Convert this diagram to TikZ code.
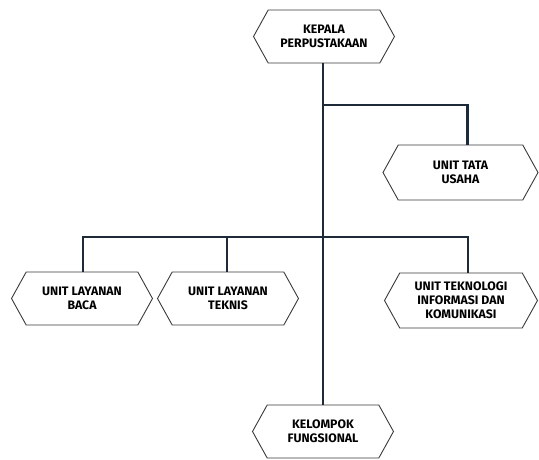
\documentclass[tikz,border=0pt]{standalone}
\usepackage{fontspec}
\setmainfont{Fira Sans}
\usetikzlibrary{shapes.symbols,positioning}
\definecolor{garis}{HTML}{1E2A38}
\definecolor{tepi}{HTML}{3A3A3A}

\begin{document}
\begin{tikzpicture}[x=1pt,y=-1pt]
  \tikzstyle{unit}=[draw=tepi,line width=0.9pt,fill=white,shape=signal,signal to=west and east,signal pointer angle=122,minimum width=141pt,minimum height=53pt,inner sep=1pt,align=center,font=\bfseries\fontsize{12.3}{14}\selectfont]
  \tikzstyle{hubung}=[draw=garis,line width=2.6pt]
  \useasboundingbox (0,0) rectangle (539,459);
  \node[unit] (kepala) at (324,36.5) {KEPALA\\PERPUSTAKAAN};
  \node[unit,minimum width=155pt,minimum height=55pt] (tata) at (460.5,172.5) {UNIT TATA\\USAHA};
  \node[unit] (baca) at (82,298.5) {UNIT LAYANAN\\BACA};
  \node[unit] (teknis) at (228,298.5) {UNIT LAYANAN\\TEKNIS};
  \node[unit,minimum width=153pt,minimum height=55pt] (tik) at (461,300.5) {UNIT TEKNOLOGI\\INFORMASI DAN\\KOMUNIKASI};
  \node[unit] (kelompok) at (323,431.5) {KELOMPOK\\FUNGSIONAL};
  \coordinate (cabang) at (323,105);
  \coordinate (bus) at (323,237);
  % garis komando
  \draw[hubung] (kepala.south -| kelompok.north) -- (kelompok.north);
  \draw[hubung] (cabang) -| ([xshift=7pt]tata.north);
  \draw[hubung] ([xshift=1pt]baca.north) |- (bus) -| ([xshift=7pt]tik.north);
  \draw[hubung] ([xshift=-1pt]teknis.north) -- ([xshift=-1pt]teknis.north |- bus);
\end{tikzpicture}
\end{document}
